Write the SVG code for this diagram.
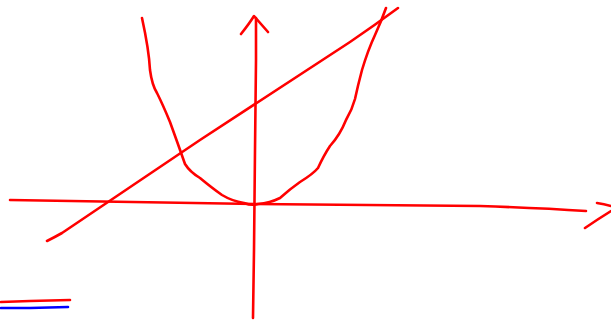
<svg xmlns="http://www.w3.org/2000/svg" width="611" height="322" viewBox="0 0 611 322">
<style>
path{fill:none;stroke-width:2.6;stroke-linecap:round;stroke-linejoin:round}
.r{stroke:#ff0000}
.b{stroke:#0000ff}
</style>
<rect width="611" height="322" fill="#ffffff"/>
<path class="r" d="M253,318 L254,250 L255,150 L256,60 L256,18"/>
<path class="r" d="M241,34 Q249,24 254,16 Q261,24 268,32"/>
<path class="r" d="M10,200 L255,204 L480,206 Q540,208 586,211"/>
<path class="r" d="M597,203 Q604,204 611,206"/>
<path class="r" d="M585,228 Q598,219 611,211"/>
<path class="r" d="M142,18 Q149,50 150,70 Q152,85 157,93 Q163,105 170,122 Q178,144 185,164 Q190,172 200,178 Q212,188 222,195 Q232,201 244,203 Q252,206 258,204 Q270,203 280,198 Q290,189 300,182 Q313,174 318,168 Q324,155 330,146 Q340,135 346,120 Q352,110 355,99 Q358,85 362,70 Q368,50 375,35 Q381,22 386,8"/>
<path class="r" d="M47,241 Q55,237 62,233 L200,140 L350,42 Q375,25 398,8"/>
<path class="r" d="M1,302 L30,301 L70,300"/>
<path class="b" d="M1,308 L30,308 L68,307"/>
</svg>
